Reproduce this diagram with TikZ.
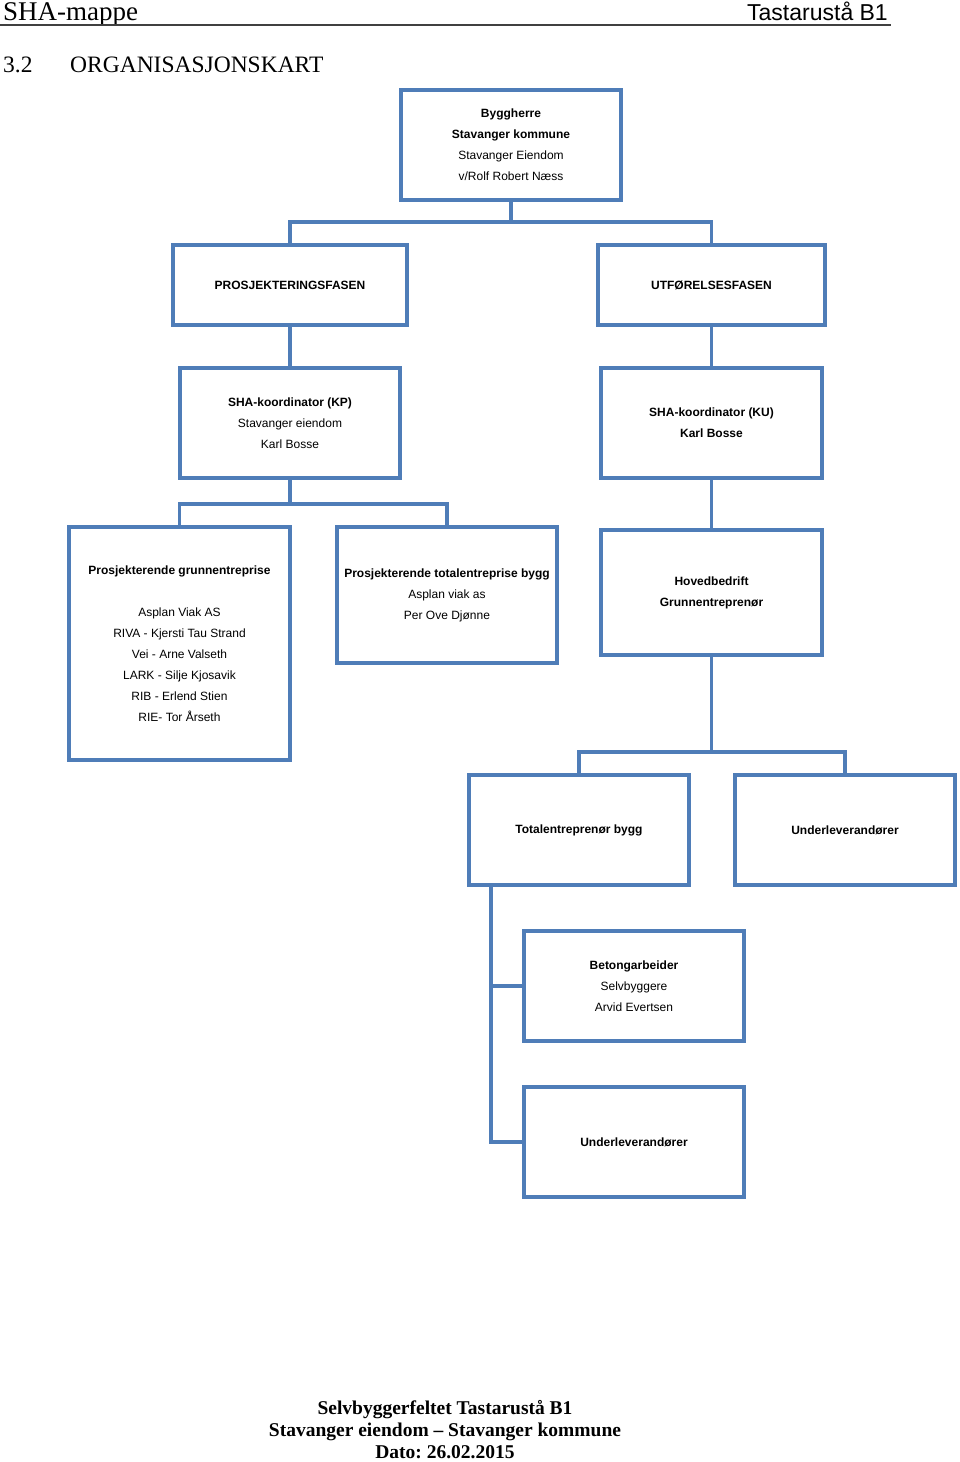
\documentclass[tikz,border=0pt]{standalone}
\usepackage{fontspec}
\setmainfont{Liberation Serif}
\newfontfamily\arialf{Liberation Sans}
\definecolor{boxblue}{HTML}{4F7DB8}
\definecolor{rulegray}{HTML}{404040}
\frenchspacing
\begin{document}
\begin{tikzpicture}[x=1pt,y=-1pt,
  orgbox/.style={draw=boxblue, line width=3.5pt, minimum width=220pt, minimum height=110pt,
    inner sep=0pt, outer sep=0pt, align=center, font=\arialf\fontsize{12}{21}\selectfont},
  conn/.style={draw=boxblue, line width=3.5pt}]
\useasboundingbox (0,0) rectangle (960,1462);

% header
\node[anchor=base west, inner sep=0pt, font=\fontsize{27}{29}\selectfont] (hl) at (3,20) {SHA-mappe};
\node[anchor=base east, inner sep=0pt, font=\arialf\fontsize{23}{26}\selectfont] (hr) at (888,20) {Tastarustå B1};
\coordinate (rl) at (0,25);
\coordinate (rr) at (891,25);
\draw[rulegray, line width=2pt] (rl) -- (rr);
\node[anchor=base west, inner sep=0pt, font=\fontsize{23.5}{26}\selectfont] (secn) at (3,72) {3.2};
\node[anchor=base west, inner sep=0pt, font=\fontsize{23.5}{26}\selectfont] (sect) at (70,72) {ORGANISASJONSKART};

% boxes
\node[orgbox] (bh) at (511,145) {\textbf{Byggherre}\\\textbf{Stavanger kommune}\\Stavanger Eiendom\\v/Rolf Robert Næss};
\node[orgbox, minimum width=234pt, minimum height=80pt] (pf) at (290,285) {\textbf{PROSJEKTERINGSFASEN}};
\node[orgbox, minimum width=227pt, minimum height=80pt] (uf) at (711.5,285) {\textbf{UTFØRELSESFASEN}};
\node[orgbox] (kp) at (290,423) {\textbf{SHA-koordinator (KP)}\\Stavanger eiendom\\Karl Bosse};
\node[orgbox, minimum width=221pt] (ku) at (711.5,423) {\textbf{SHA-koordinator (KU)}\\\textbf{Karl Bosse}};
\node[orgbox, minimum width=221pt, minimum height=233pt] (pg) at (179.5,643.5)
  {\textbf{Prosjekterende grunnentreprise}\\[21pt]Asplan Viak AS\\RIVA - Kjersti Tau Strand\\Vei - Arne Valseth\\LARK -  Silje Kjosavik\\RIB - Erlend Stien\\RIE- Tor Årseth};
\node[orgbox, minimum height=136pt] (pt) at (447,595) {\textbf{Prosjekterende totalentreprise bygg}\\Asplan viak as\\Per Ove Djønne};
\node[orgbox, minimum width=221pt, minimum height=125pt] (hb) at (711.5,592.5) {\textbf{Hovedbedrift}\\\textbf{Grunnentreprenør}};
\node[orgbox] (tb) at (579,830) {\textbf{Totalentreprenør bygg}};
\node[orgbox] (ul) at (845,830) {\textbf{Underleverandører}};
\node[orgbox] (bet) at (634,986) {\textbf{Betongarbeider}\\Selvbyggere\\Arvid Evertsen};
\node[orgbox] (ul2) at (634,1142) {\textbf{Underleverandører}};

% junctions
\coordinate (bhj) at (511,222);
\coordinate (kpj) at (290,504);
\coordinate (hbj) at (711.5,752);

% connectors
\draw[conn] (bh.south) -- (bhj);
\draw[conn] (pf.north) |- (bhj) -| (uf.north);
\draw[conn] (pf.south) -- (kp.north);
\draw[conn] (uf.south) -- (ku.north);
\draw[conn] (kp.south) -- (kpj);
\draw[conn] (pg.north) |- (kpj) -| (pt.north);
\draw[conn] (ku.south) -- (hb.north);
\draw[conn] (hb.south) -- (hbj);
\draw[conn] (tb.north) |- (hbj) -| (ul.north);
\draw[conn] ([xshift=-88pt]tb.south) |- (bet.west);
\draw[conn] ([xshift=-88pt]tb.south) |- (ul2.west);

% footer
\node[inner sep=0pt, align=center, font=\bfseries\fontsize{19.5}{22}\selectfont, anchor=base] (ft) at (445,1458)
  {Selvbyggerfeltet Tastarustå B1\\Stavanger eiendom – Stavanger kommune\\Dato: 26.02.2015};
\end{tikzpicture}
\end{document}
